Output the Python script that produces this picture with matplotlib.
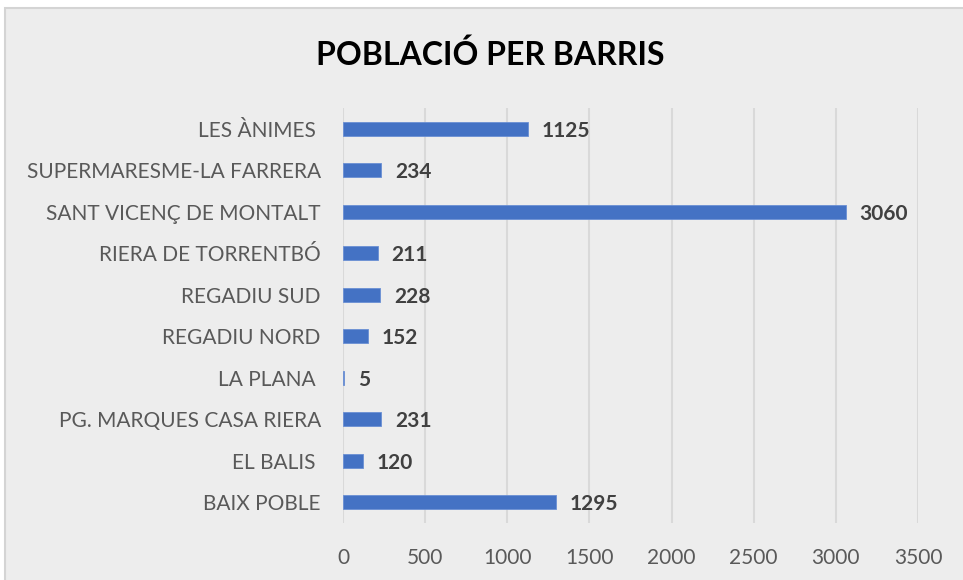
import matplotlib
matplotlib.use("Agg")
import matplotlib.pyplot as plt
from matplotlib.patches import Rectangle

categories = ["BAIX POBLE", "EL BALIS ", "PG. MARQUES CASA RIERA", "LA PLANA ",
              "REGADIU NORD", "REGADIU SUD", "RIERA DE TORRENTBÓ",
              "SANT VICENÇ DE MONTALT", "SUPERMARESME-LA FARRERA", "LES ÀNIMES "]
values = [1295, 120, 231, 5, 152, 228, 211, 3060, 234, 1125]
xticks = [0, 500, 1000, 1500, 2000, 2500, 3000, 3500]
title = "POBLACIÓ PER BARRIS"

plt.rcParams['font.family'] = ['Lato', 'DejaVu Sans']

W, H = 963, 580
fig = plt.figure(figsize=(W / 100, H / 100), dpi=100)
fig.patch.set_facecolor("white")
bg = Rectangle((5 / W, -0.01), 1, 1.01 - 8 / H, transform=fig.transFigure,
               facecolor="#EDEDED", edgecolor="#D4D4D4", linewidth=1.5, zorder=-10)
fig.add_artist(bg)

ax = fig.add_axes([343 / W, 1 - 523 / H, (918 - 343) / W, (523 - 108) / H])
ax.set_facecolor("none")
ypos = list(range(len(categories)))
ax.barh(ypos, values, height=0.34, color="#4472C4", edgecolor="#6A8FD4", linewidth=0.6, zorder=3)
for y, v in zip(ypos, values):
    ax.annotate(str(v), xy=(v, y), xytext=(10, -1.5), textcoords="offset points",
                va="center", ha="left", fontsize=15, fontweight="bold", color="#404040")
ax.set_xlim(0, 3500)
ax.set_ylim(-0.5, len(categories) - 0.5)
ax.set_xticks(xticks)
ax.set_xticklabels([str(t) for t in xticks])
ax.set_yticks(ypos)
ax.set_yticklabels(categories)
ax.tick_params(axis="x", length=0, pad=18, labelsize=15, labelcolor="#595959")
ax.tick_params(axis="y", length=0, pad=16, labelsize=15, labelcolor="#595959")
ax.grid(axis="x", color="#D9D9D9", linewidth=1.5, zorder=0)
for s in ["top", "right", "bottom", "left"]:
    ax.spines[s].set_visible(False)

fig.text(490 / W, 1 - 55 / H, title, ha="center", va="center",
         fontsize=23, fontweight="bold", color="black")

fig.savefig("out.png", dpi=100, facecolor=fig.get_facecolor())
